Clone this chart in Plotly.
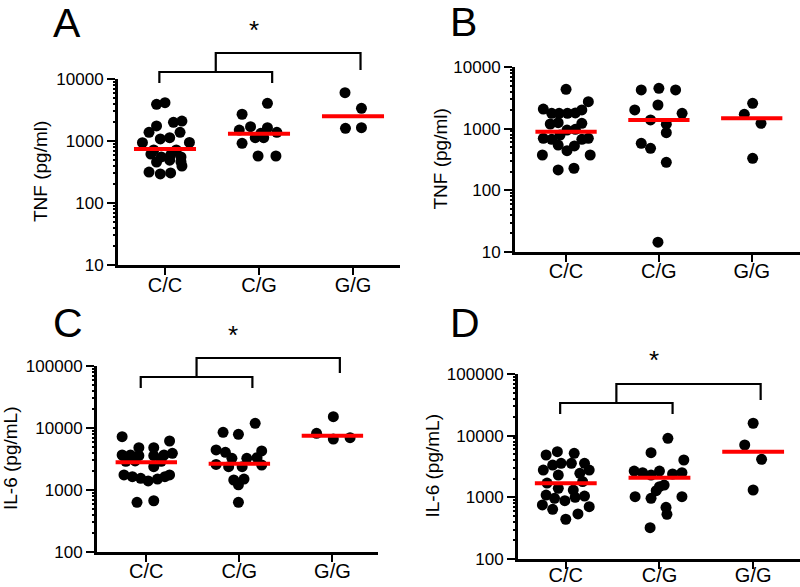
import plotly.graph_objects as go

W, H = 800, 587
categories = ["C/C", "C/G", "G/G"]
cat_pos = [1, 2, 3]

# ---------------- Panel A : TNF ----------------
A_CC = [3910, 4150, 2000, 2100, 1750, 1380, 1380, 1080, 1130, 940, 950, 716, 716,
        616, 553, 594, 553, 457, 490, 464, 316, 294, 305, 395]
A_CC_jit = [-0.09, 0.0, 0.09, 0.18, -0.09, -0.17, 0.16, -0.05, 0.05, -0.24, 0.26, -0.12, 0.12,
            -0.15, -0.04, 0.06, 0.17, -0.09, 0.05, 0.17, -0.17, -0.05, 0.06, 0.18]
A_CG = [4060, 2700, 1500, 1700, 1640, 1380, 1130, 1130, 918, 573, 573, 1330]
A_CG_jit = [0.09, -0.18, -0.21, -0.09, 0.09, 0.19, -0.04, 0.05, -0.18, -0.01, 0.18, 0.02]
A_GG = [6010, 3370, 1600, 1640]
A_GG_jit = [-0.085, 0.09, -0.08, 0.09]
A_med = [743, 1313, 2500]

# ---------------- Panel B : TNF ----------------
B_CC = [4350, 2740, 2080, 1770, 1770, 1770, 1800, 2010, 1190, 1250, 1220, 950, 977,
        698, 673, 789, 698, 673, 543, 440, 524, 374, 374, 214, 228]
B_CC_jit = [0.0, 0.24, -0.245, -0.155, -0.075, 0.015, 0.10, 0.17, -0.17, -0.085, 0.17, 0.01, 0.10,
            -0.245, -0.155, -0.065, 0.24, 0.17, -0.085, 0.01, 0.09, -0.255, 0.26, -0.085, 0.085]
B_CG = [4240, 4510, 4240, 2010, 2420, 1770, 1385, 1180, 861, 579, 481, 285, 14.4]
B_CG_jit = [-0.19, 0.0, 0.18, -0.26, -0.01, 0.25, -0.09, 0.08, 0.08, -0.19, -0.09, 0.08, -0.01]
B_GG = [2580, 1710, 1220, 331]
B_GG_jit = [0.01, -0.08, 0.10, 0.01]
B_med = [893, 1384, 1472]

# ---------------- Panel C : IL-6 ----------------
C_CC = [7240, 6170, 4810, 4810, 3670, 3670, 3570, 3570, 3670, 3910, 2940, 2380,
        1750, 1640, 1540, 1400, 1500, 1640, 1750, 634, 671, 2900, 2900]
C_CC_jit = [-0.26, 0.25, -0.08, 0.08, -0.26, -0.17, -0.08, 0.08, 0.19, 0.28, -0.12, 0.08,
            -0.24, -0.15, -0.06, 0.02, 0.12, 0.20, 0.25, -0.10, 0.08, -0.22, 0.16]
C_CG = [8530, 7900, 11900, 4420, 4060, 4260, 3240, 3240, 3320, 2590, 2380, 2380, 2530,
        1450, 1500, 1210, 634]
C_CG_jit = [-0.175, -0.01, 0.17, -0.25, -0.15, 0.24, -0.08, 0.08, 0.19, -0.25, -0.115, 0.03, 0.24,
            -0.06, 0.05, -0.01, -0.01]
C_GG = [15200, 8200, 6650, 6980]
C_GG_jit = [0.01, -0.17, 0.01, 0.19]
C_med = [2800, 2655, 7510]

# ---------------- Panel D : IL-6 ----------------
D_CC = [4860, 5500, 5170, 2770, 3340, 3560, 3560, 3560, 2770, 2300, 2450, 1400, 1310,
        1090, 964, 883, 1000, 1050, 752, 640, 704, 537, 441, 1700, 1800]
D_CC_jit = [-0.21, -0.09, 0.09, -0.24, -0.14, -0.05, 0.06, 0.20, 0.25, -0.08, 0.15, -0.08, 0.08,
            -0.21, -0.12, -0.01, 0.10, 0.20, -0.25, -0.14, 0.25, 0.13, 0.0, -0.2, 0.18]
D_CG = [9060, 5300, 4030, 2670, 2510, 2300, 2670, 2390, 2510, 1490, 1580, 1280, 1025,
        964, 1025, 689, 530, 322]
D_CG_jit = [0.09, -0.09, 0.26, -0.27, -0.18, -0.09, 0.0, 0.14, 0.24, 0.0, 0.05, -0.035, -0.26,
            -0.09, 0.24, 0.07, 0.08, -0.10]
D_GG = [15900, 7060, 4140, 1315]
D_GG_jit = [0.0, -0.09, 0.09, 0.0]
D_med = [1687, 2083, 5500]

panels = [
    dict(name="A", groups=[(A_CC, A_CC_jit), (A_CG, A_CG_jit), (A_GG, A_GG_jit)],
         med=A_med, title="TNF (pg/ml)", decades=[10, 100, 1000, 10000],
         xdom=(118, 400), xrange=(0.5, 3.5), ydom=(79, 265), xlab_shift=-7,
         letter=(67, 21), ytitle_x=40, star=(254, 25),
         bracket=dict(low_y=72, low_leg=83, up_y=53, up_leg=70)),
    dict(name="B", groups=[(B_CC, B_CC_jit), (B_CG, B_CG_jit), (B_GG, B_GG_jit)],
         med=B_med, title="TNF (pg/ml)", decades=[10, 100, 1000, 10000],
         xdom=(515, 800), xrange=(0.45, 3.52), ydom=(67, 252), xlab_shift=-8,
         letter=(464, 20), ytitle_x=440, star=None, bracket=None),
    dict(name="C", groups=[(C_CC, C_CC_jit), (C_CG, C_CG_jit), (C_GG, C_GG_jit)],
         med=C_med, title="IL-6 (pg/mL)", decades=[100, 1000, 10000, 100000],
         xdom=(97, 378), xrange=(0.47, 3.49), ydom=(366, 552), xlab_shift=-8,
         letter=(68, 321), ytitle_x=10, star=(233, 330),
         bracket=dict(low_y=377, low_leg=388, up_y=358, up_leg=373)),
    dict(name="D", groups=[(D_CC, D_CC_jit), (D_CG, D_CG_jit), (D_GG, D_GG_jit)],
         med=D_med, title="IL-6 (pg/mL)", decades=[100, 1000, 10000, 100000],
         xdom=(518, 800), xrange=(0.49, 3.5), ydom=(374, 559), xlab_shift=-11,
         letter=(465, 321), ytitle_x=432, star=(654, 355),
         bracket=dict(low_y=403, low_leg=414, up_y=384, up_leg=400)),
]

FONT = "Arial, Liberation Sans, sans-serif"
fig = go.Figure()
layout = dict(width=W, height=H, margin=dict(l=0, r=0, t=0, b=0, autoexpand=False),
              paper_bgcolor="white", plot_bgcolor="white", showlegend=False,
              font=dict(family=FONT, color="black"))
annotations = []
shapes = []


def px(x):
    return x / W


def py(y):
    return 1 - y / H


for i, p in enumerate(panels):
    n = i + 1
    xa = "x" if n == 1 else f"x{n}"
    ya = "y" if n == 1 else f"y{n}"
    ya_minor = f"y{n + 4}"
    for ci, (vals, jit) in enumerate(p["groups"]):
        fig.add_trace(go.Scatter(
            x=[cat_pos[ci] + j for j in jit], y=vals, mode="markers",
            marker=dict(color="black", size=11, line=dict(width=0)),
            xaxis=xa, yaxis=ya, cliponaxis=False, hoverinfo="skip"))
    for ci, m in enumerate(p["med"]):
        fig.add_trace(go.Scatter(
            x=[cat_pos[ci] - 0.33, cat_pos[ci] + 0.33], y=[m, m], mode="lines",
            line=dict(color="#ff0000", width=4),
            xaxis=xa, yaxis=ya, hoverinfo="skip"))
    dec = p["decades"]
    fig.add_trace(go.Scatter(x=[cat_pos[0]], y=[dec[1]], mode="markers",
                             marker=dict(opacity=0), xaxis=xa, yaxis=ya_minor,
                             hoverinfo="skip"))

    sfx = "" if n == 1 else str(n)
    minor_vals = [k * d for d in dec[:-1] for k in range(2, 10)]
    yr = [len(str(dec[0])) - 1, len(str(dec[-1])) - 1]
    ydomain = [py(p["ydom"][1]), py(p["ydom"][0])]
    layout["xaxis" + sfx] = dict(
        domain=[px(p["xdom"][0]), px(p["xdom"][1])], range=list(p["xrange"]),
        anchor=ya, showline=True, linewidth=3, linecolor="black",
        ticks="outside", ticklen=7, tickwidth=2, tickcolor="black",
        tickvals=cat_pos, ticktext=categories, tickfont=dict(size=20, family=FONT),
        ticklabelstandoff=p["xlab_shift"],
        showgrid=False, zeroline=False, fixedrange=True, automargin=False)
    layout["yaxis" + sfx] = dict(
        domain=ydomain, type="log", range=yr,
        anchor=xa, showline=True, linewidth=3, linecolor="black",
        ticks="outside", ticklen=8, tickwidth=2, tickcolor="black",
        tickvals=dec, ticktext=[str(d) for d in dec], tickfont=dict(size=17, family=FONT),
        showgrid=False, zeroline=False, fixedrange=True, automargin=False)
    layout[f"yaxis{n + 4}"] = dict(
        domain=ydomain, type="log", range=yr, overlaying=ya, anchor=xa, side="left",
        showline=False, ticks="outside", ticklen=4, tickwidth=1.5, tickcolor="black",
        tickvals=minor_vals, showticklabels=False,
        showgrid=False, zeroline=False, fixedrange=True, automargin=False)

    annotations.append(dict(text=p["name"], x=px(p["letter"][0]), y=py(p["letter"][1] + 2),
                            xref="paper", yref="paper", showarrow=False,
                            xanchor="center", yanchor="middle",
                            font=dict(size=41, family=FONT, color="black")))
    annotations.append(dict(text=p["title"], x=px(p["ytitle_x"]),
                            y=py((p["ydom"][0] + p["ydom"][1]) / 2),
                            xref="paper", yref="paper", showarrow=False, textangle=-90,
                            xanchor="center", yanchor="middle",
                            font=dict(size=19, family=FONT, color="black")))
    if p["star"]:
        annotations.append(dict(text="*", x=px(p["star"][0]), y=py(p["star"][1] + 5),
                                xref="paper", yref="paper", showarrow=False,
                                xanchor="center", yanchor="middle",
                                font=dict(size=26, family=FONT, color="black")))
    b = p["bracket"]
    if b:
        lx0, lx1 = cat_pos[0] - 0.06, cat_pos[1] + 0.14
        ux0, ux1 = (lx0 + lx1) / 2, cat_pos[2] + 0.08
        line = dict(color="black", width=2.2)
        shapes.append(dict(type="path", xref=xa, yref="paper",
                           path=f"M {lx0},{py(b['low_leg'])} L {lx0},{py(b['low_y'])} "
                                f"L {lx1},{py(b['low_y'])} L {lx1},{py(b['low_leg'])}",
                           line=line))
        shapes.append(dict(type="path", xref=xa, yref="paper",
                           path=f"M {ux0},{py(b['low_y'])} L {ux0},{py(b['up_y'])} "
                                f"L {ux1},{py(b['up_y'])} L {ux1},{py(b['up_leg'])}",
                           line=line))

layout["annotations"] = annotations
layout["shapes"] = shapes
fig.update_layout(**layout)
fig.write_html("out.html", config={"displayModeBar": False},
               post_script="document.body.style.margin='0px';"
                           "document.body.style.overflow='hidden';")
